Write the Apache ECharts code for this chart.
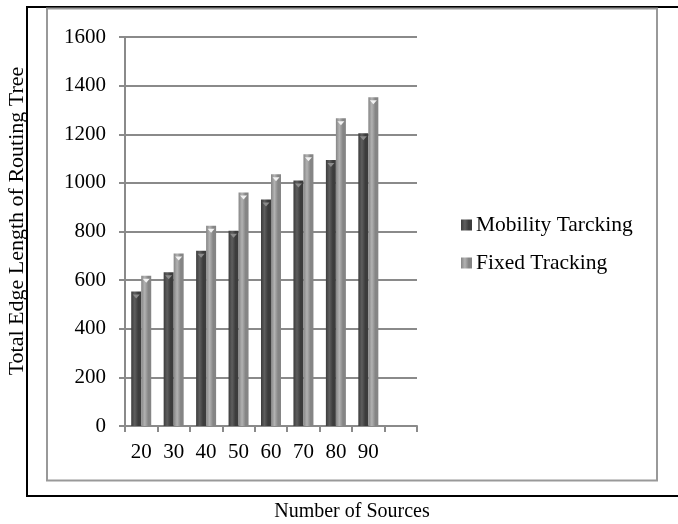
<!DOCTYPE html>
<html>
<head>
<meta charset="utf-8">
<script src="https://cdn.jsdelivr.net/npm/echarts@6/dist/echarts.min.js"></script>
<style>
  html, body { margin: 0; padding: 0; background: #fff; }
  #chart { width: 678px; height: 524px; }
</style>
</head>
<body>
<div id="chart"></div>
<script>
// Number of sources (the last slot is left empty)
const categories = ['20', '30', '40', '50', '60', '70', '80', '90', ''];
const mobilityTracking = [553, 632, 721, 803, 932, 1010, 1094, 1204, null];
const fixedTracking = [618, 710, 824, 960, 1035, 1118, 1266, 1352, null];
const yTicks = { min: 0, max: 1600, interval: 200 };

const serif = 'Liberation Serif, Times New Roman, serif';

function cylinder(edge, mid) {
  return new echarts.graphic.LinearGradient(0, 0, 1, 0, [
    { offset: 0, color: edge },
    { offset: 0.35, color: mid },
    { offset: 0.7, color: edge },
    { offset: 1, color: edge }
  ]);
}

const darkFill = cylinder('#3c3c3c', '#5e5e5e');
const lightFill = cylinder('#858585', '#b2b2b2');

const chart = echarts.init(document.getElementById('chart'), null, { renderer: 'canvas' });

const capSymbol = 'path://M0,0 L10,0 L5,6 Z';

chart.setOption({
  animation: false,
  backgroundColor: '#fff',
  grid: { left: 125, right: 261, top: 37, bottom: 98, containLabel: false },
  legend: {
    orient: 'vertical',
    left: 456,
    top: 209,
    itemWidth: 11,
    itemHeight: 11,
    itemGap: 16,
    icon: 'rect',
    data: ['Mobility Tarcking', 'Fixed Tracking'],
    textStyle: { fontFamily: serif, fontSize: 21.5, color: '#000', padding: [0, 0, 0, -1] }
  },
  xAxis: {
    type: 'category',
    data: categories,
    boundaryGap: true,
    axisLine: { lineStyle: { color: '#8a8a8a', width: 2 } },
    axisTick: { show: true, length: 6, lineStyle: { color: '#8a8a8a', width: 2 } },
    axisLabel: { fontFamily: serif, fontSize: 21, color: '#000', margin: 16 }
  },
  yAxis: {
    type: 'value',
    min: yTicks.min,
    max: yTicks.max,
    interval: yTicks.interval,
    axisLine: { show: true, lineStyle: { color: '#8a8a8a', width: 2 } },
    axisTick: { show: true, length: 6, lineStyle: { color: '#8a8a8a', width: 2 } },
    axisLabel: { fontFamily: serif, fontSize: 21, color: '#000', margin: 19,
                 formatter: v => String(v) },
    splitLine: { show: true, lineStyle: { color: '#8a8a8a', width: 2 } }
  },
  series: [
    {
      name: 'Mobility Tarcking',
      type: 'bar',
      data: mobilityTracking,
      barWidth: 10,
      barGap: '0%',
      itemStyle: { color: darkFill }
    },
    {
      name: 'Fixed Tracking',
      type: 'bar',
      data: fixedTracking,
      barWidth: 10,
      barGap: '0%',
      itemStyle: { color: lightFill }
    },
    {
      name: 'capMobility',
      type: 'pictorialBar',
      data: mobilityTracking,
      barWidth: 10,
      barGap: '0%',
      symbol: capSymbol,
      symbolSize: [7, 4],
      symbolPosition: 'end',
      symbolOffset: [0, 3],
      z: 5,
      itemStyle: { color: '#8c8c8c' },
      tooltip: { show: false }
    },
    {
      name: 'capFixed',
      type: 'pictorialBar',
      data: fixedTracking,
      barWidth: 10,
      barGap: '0%',
      symbol: capSymbol,
      symbolSize: [7, 4],
      symbolPosition: 'end',
      symbolOffset: [0, 3],
      z: 5,
      itemStyle: { color: '#f2f2f2' },
      tooltip: { show: false }
    }
  ],
  graphic: [
    // outer frame (open on the right)
    { type: 'polyline', silent: true, z: -1,
      shape: { points: [[678, 7], [27, 7], [27, 496], [678, 496]] },
      style: { stroke: '#000', lineWidth: 2, fill: null } },
    // inner chart area border
    { type: 'rect', silent: true, z: -1,
      shape: { x: 47, y: 8.5, width: 610, height: 472 },
      style: { stroke: '#999', lineWidth: 2, fill: null } },
    { type: 'text', silent: true,
      x: 17, y: 221, rotation: Math.PI / 2,
      style: { text: 'Total Edge Length of Routing Tree', fontFamily: serif, fontSize: 22,
               fill: '#000', align: 'center', verticalAlign: 'middle' } },
    { type: 'text', silent: true,
      x: 352, y: 512,
      style: { text: 'Number of Sources', fontFamily: serif, fontSize: 20,
               fill: '#000', align: 'center', verticalAlign: 'middle' } }
  ]
});
</script>
</body>
</html>
